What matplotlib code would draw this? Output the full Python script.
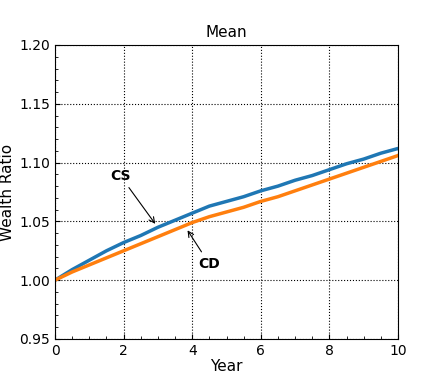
import matplotlib.pyplot as plt
from matplotlib.ticker import MultipleLocator

years = [0, 0.5, 1, 1.5, 2, 2.5, 3, 3.5, 4, 4.5, 5, 5.5, 6, 6.5, 7, 7.5, 8, 8.5, 9, 9.5, 10]
cs = [1.000, 1.009, 1.017, 1.025, 1.032, 1.038, 1.045, 1.051, 1.057, 1.063, 1.067, 1.071, 1.076, 1.080, 1.085, 1.089, 1.094, 1.099, 1.103, 1.108, 1.112]
cd = [1.000, 1.007, 1.013, 1.019, 1.025, 1.031, 1.037, 1.043, 1.049, 1.054, 1.058, 1.062, 1.067, 1.071, 1.076, 1.081, 1.086, 1.091, 1.096, 1.101, 1.106]

fig = plt.figure(figsize=(4.43, 3.8), dpi=100)
ax = fig.add_axes([55/443, 41/380, 343/443, 294/380])

ax.plot(years, cs, color="#1f77b4", linewidth=2.5)
ax.plot(years, cd, color="#ff7f0e", linewidth=2.5)

ax.annotate("CS", xy=(2.97, 1.046), xytext=(1.9, 1.089), ha="center", va="center",
            fontweight="bold", fontsize=10,
            arrowprops=dict(arrowstyle="->", color="black", lw=0.8))
ax.annotate("CD", xy=(3.82, 1.0444), xytext=(4.5, 1.0138), ha="center", va="center",
            fontweight="bold", fontsize=10,
            arrowprops=dict(arrowstyle="->", color="black", lw=0.8))

ax.set_xlim(0, 10)
ax.set_ylim(0.95, 1.20)
ax.xaxis.set_major_locator(MultipleLocator(2))
ax.xaxis.set_minor_locator(MultipleLocator(0.5))
ax.yaxis.set_major_locator(MultipleLocator(0.05))
ax.yaxis.set_minor_locator(MultipleLocator(0.01))
ax.tick_params(which="both", direction="in")
ax.tick_params(labelsize=10)
ax.grid(True, which="major", color="black", linestyle=":", linewidth=0.8)

ax.set_title("Mean", fontsize=11)
ax.set_xlabel("Year", fontsize=11, labelpad=1)
ax.set_ylabel("Wealth Ratio", fontsize=11, labelpad=3)

plt.savefig("out.png")
plt.close()
